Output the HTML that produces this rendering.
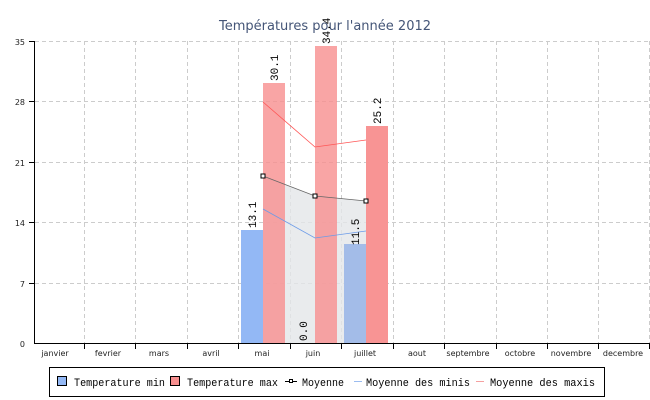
<!DOCTYPE html><html><head><style>body{margin:0;background:#fff}svg{display:block}text{font-family:"DejaVu Sans","Liberation Sans",sans-serif}text.m{font-family:"Liberation Mono",monospace}</style></head><body>
<svg width="650" height="400" xmlns="http://www.w3.org/2000/svg">
<text x="325" y="30" text-anchor="middle" font-size="13" fill="#445577">Températures pour l'année 2012</text>
<g stroke="#ccc" stroke-dasharray="4,3" stroke-width="1">
<line x1="35" y1="41.5" x2="650" y2="41.5"/><line x1="35" y1="101.5" x2="650" y2="101.5"/><line x1="35" y1="162.5" x2="650" y2="162.5"/><line x1="35" y1="222.5" x2="650" y2="222.5"/><line x1="35" y1="283.5" x2="650" y2="283.5"/>
<line x1="84.5" y1="41" x2="84.5" y2="343"/><line x1="135.5" y1="41" x2="135.5" y2="343"/><line x1="187.5" y1="41" x2="187.5" y2="343"/><line x1="238.5" y1="41" x2="238.5" y2="343"/><line x1="290.5" y1="41" x2="290.5" y2="343"/><line x1="341.5" y1="41" x2="341.5" y2="343"/><line x1="393.5" y1="41" x2="393.5" y2="343"/><line x1="444.5" y1="41" x2="444.5" y2="343"/><line x1="496.5" y1="41" x2="496.5" y2="343"/><line x1="547.5" y1="41" x2="547.5" y2="343"/><line x1="598.5" y1="41" x2="598.5" y2="343"/><line x1="649.5" y1="41" x2="649.5" y2="343"/>
</g>
<polygon points="263,176 315,196 366,201 366,343 263,343" fill="#e4e6e8" opacity="0.8"/>
<rect x="241" y="230" width="22" height="113" fill="#93b8f5"/>
<rect x="344" y="244" width="22" height="99" fill="#a3bce8"/>
<rect x="263" y="83" width="22" height="260" fill="#f78f8f" opacity="0.8"/>
<rect x="315" y="46" width="22" height="297" fill="#f78f8f" opacity="0.8"/>
<rect x="366" y="126" width="22" height="217" fill="#f89494"/>
<polyline points="263,102 315,147 366,140" fill="none" stroke="#f55" stroke-width="0.8"/>
<polyline points="263,209 315,238 366,231" fill="none" stroke="#6c9be8" stroke-width="0.8"/>
<polyline points="263,176 315,196 366,201" fill="none" stroke="#666" stroke-width="0.8"/>
<g fill="#fff" stroke="#000" stroke-width="1"><rect x="261" y="174" width="4" height="4"/><rect x="313" y="194" width="4" height="4"/><rect x="364" y="199" width="4" height="4"/></g>
<g font-size="11" fill="#000">
<text class="m" transform="translate(256,228) rotate(-90)">13.1</text>
<text class="m" transform="translate(278,81) rotate(-90)">30.1</text>
<text class="m" transform="translate(330,44) rotate(-90)">34.4</text>
<text class="m" transform="translate(307,341) rotate(-90)">0.0</text>
<text class="m" transform="translate(359,245) rotate(-90)">11.5</text>
<text class="m" transform="translate(381,124) rotate(-90)">25.2</text>
</g>
<line x1="35" y1="343.5" x2="650" y2="343.5" stroke="#000"/>
<line x1="34.5" y1="41" x2="34.5" y2="344" stroke="#000"/>
<g stroke="#000"><line x1="84.5" y1="343" x2="84.5" y2="349"/><line x1="135.5" y1="343" x2="135.5" y2="349"/><line x1="187.5" y1="343" x2="187.5" y2="349"/><line x1="238.5" y1="343" x2="238.5" y2="349"/><line x1="290.5" y1="343" x2="290.5" y2="349"/><line x1="341.5" y1="343" x2="341.5" y2="349"/><line x1="393.5" y1="343" x2="393.5" y2="349"/><line x1="444.5" y1="343" x2="444.5" y2="349"/><line x1="496.5" y1="343" x2="496.5" y2="349"/><line x1="547.5" y1="343" x2="547.5" y2="349"/><line x1="598.5" y1="343" x2="598.5" y2="349"/><line x1="649.5" y1="343" x2="649.5" y2="349"/>
<line x1="29" y1="41.5" x2="35" y2="41.5"/><line x1="29" y1="101.5" x2="35" y2="101.5"/><line x1="29" y1="162.5" x2="35" y2="162.5"/><line x1="29" y1="222.5" x2="35" y2="222.5"/><line x1="29" y1="283.5" x2="35" y2="283.5"/></g>
<g font-size="8" fill="#222" text-anchor="end"><text x="25" y="45">35</text><text x="25" y="105">28</text><text x="25" y="166">21</text><text x="25" y="226">14</text><text x="25" y="287">7</text><text x="25" y="347">0</text></g>
<g font-size="8" fill="#222" text-anchor="middle">
<text x="55" y="356">janvier</text><text x="108" y="356">fevrier</text><text x="159" y="356">mars</text><text x="211" y="356">avril</text><text x="262" y="356">mai</text><text x="313" y="356">juin</text><text x="365" y="356">juillet</text><text x="417" y="356">aout</text><text x="468" y="356">septembre</text><text x="520" y="356">octobre</text><text x="571" y="356">novembre</text><text x="623" y="356">decembre</text></g>
<rect x="49.5" y="367.5" width="555" height="29" fill="#fff" stroke="#000"/>
<g font-size="11" fill="#000">
<rect x="57.5" y="376.5" width="9" height="9" fill="#93b8f5" stroke="#000"/><text class="m" x="74" y="386" textLength="91" lengthAdjust="spacingAndGlyphs">Temperature min</text>
<rect x="170.5" y="376.5" width="9" height="9" fill="#f78f8f" stroke="#000"/><text class="m" x="187" y="386" textLength="91" lengthAdjust="spacingAndGlyphs">Temperature max</text>
<line x1="285" y1="381.5" x2="297" y2="381.5" stroke="#000"/><rect x="289.5" y="379.5" width="3" height="3" fill="#fff" stroke="#000"/><text class="m" x="302" y="386" textLength="42" lengthAdjust="spacingAndGlyphs">Moyenne</text>
<line x1="354" y1="381.5" x2="362" y2="381.5" stroke="#9bbcf0"/><text class="m" x="366" y="386" textLength="104" lengthAdjust="spacingAndGlyphs">Moyenne des minis</text>
<line x1="476" y1="381.5" x2="484" y2="381.5" stroke="#f5a0a0"/><text class="m" x="490" y="386" textLength="105" lengthAdjust="spacingAndGlyphs">Moyenne des maxis</text>
</g>
</svg></body></html>
